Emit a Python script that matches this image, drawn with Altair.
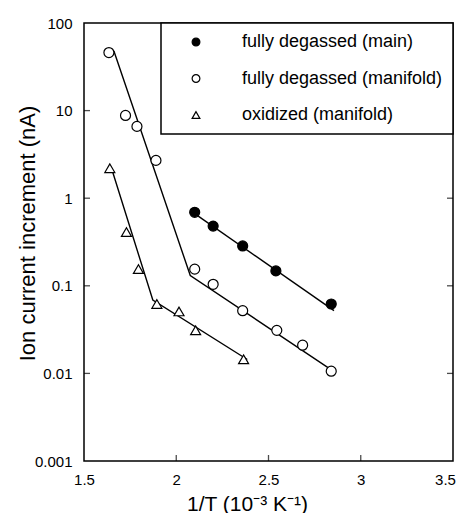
import altair as alt
import pandas as pd

series_names = ["fully degassed (main)", "fully degassed (manifold)", "oxidized (manifold)"]

# measured points
main_x = [2.10, 2.20, 2.36, 2.54, 2.84]
main_y = [0.69, 0.48, 0.285, 0.148, 0.062]

manifold_x = [1.635, 1.725, 1.787, 1.89, 2.10, 2.20, 2.36, 2.545, 2.685, 2.84]
manifold_y = [46, 8.8, 6.6, 2.7, 0.155, 0.104, 0.052, 0.031, 0.021, 0.0106]

oxid_x = [1.64, 1.73, 1.795, 1.895, 2.015, 2.105, 2.365]
oxid_y = [2.2, 0.41, 0.155, 0.062, 0.051, 0.031, 0.0145]

# fitted lines
fit_main_x = [2.09, 2.855]
fit_main_y = [0.69, 0.052]
fit_manifold_x = [1.662, 2.076, 2.849]
fit_manifold_y = [48, 0.131, 0.0107]
fit_oxid_x = [1.655, 1.873, 2.385]
fit_oxid_y = [2.0, 0.0687, 0.0144]

# axis ticks
x_ticks = [1.5, 2, 2.5, 3, 3.5]
y_ticks = [0.001, 0.01, 0.1, 1, 10, 100]
x_inner = [2, 2.5, 3]
y_inner = [0.01, 0.1, 1, 10]

pts = pd.concat([
    pd.DataFrame({"x": main_x, "y": main_y, "series": series_names[0]}),
    pd.DataFrame({"x": manifold_x, "y": manifold_y, "series": series_names[1]}),
    pd.DataFrame({"x": oxid_x, "y": oxid_y, "series": series_names[2]}),
], ignore_index=True)

fits = pd.concat([
    pd.DataFrame({"x": fit_main_x, "y": fit_main_y, "series": series_names[0]}),
    pd.DataFrame({"x": fit_manifold_x, "y": fit_manifold_y, "series": series_names[1]}),
    pd.DataFrame({"x": fit_oxid_x, "y": fit_oxid_y, "series": series_names[2]}),
], ignore_index=True)

X = alt.X(
    "x:Q",
    scale=alt.Scale(domain=[x_ticks[0], x_ticks[-1]], nice=False, zero=False),
    axis=alt.Axis(
        values=x_ticks, format=".1~f", title="1/T (10⁻³ K⁻¹)",
        ticks=False, tickSize=0, domain=False, grid=False,
        labelPadding=11, labelFontSize=15, labelFlush=False,
        labelOffset={"condition": {"test": "datum.value >= 3.5", "value": -8}, "value": 0},
        titleFontSize=21, titleX=163, titleY=32, titleBaseline="top",
    ),
)
Y = alt.Y(
    "y:Q",
    scale=alt.Scale(type="log", domain=[y_ticks[0], y_ticks[-1]], nice=False),
    axis=alt.Axis(
        values=y_ticks, format="~g", title="Ion current increment (nA)",
        ticks=False, tickSize=0, domain=False, grid=False,
        labelPadding=12, labelFontSize=15, labelFlush=False,
        titleFontSize=22, titleX=-45, titleY=210,
    ),
)

lines = alt.Chart(fits).mark_line(color="black", strokeWidth=1.4).encode(
    x=X, y=Y, detail="series:N"
)

legend = alt.Legend(title=None)
points = alt.Chart(pts).mark_point(filled=True, strokeWidth=1.2, size=100, opacity=1).encode(
    x=X, y=Y,
    shape=alt.Shape("series:N", scale=alt.Scale(domain=series_names, range=["circle", "circle", "triangle-up"]),
                    legend=legend),
    fill=alt.Fill("series:N", scale=alt.Scale(domain=series_names, range=["black", "white", "white"]),
                  legend=legend),
    stroke=alt.Stroke("series:N", scale=alt.Scale(domain=series_names, range=["black", "black", "black"]),
                      legend=legend),
)

bottom_ticks = alt.Chart(pd.DataFrame({"x": x_inner, "y": [y_ticks[0]] * len(x_inner)})).mark_tick(
    orient="vertical", size=6, thickness=1.3, color="black", yOffset=-3
).encode(x=X, y=Y)
top_ticks = alt.Chart(pd.DataFrame({"x": x_inner, "y": [y_ticks[-1]] * len(x_inner)})).mark_tick(
    orient="vertical", size=6, thickness=1.3, color="black", yOffset=3
).encode(x=X, y=Y)
left_ticks = alt.Chart(pd.DataFrame({"x": [x_ticks[0]] * len(y_inner), "y": y_inner})).mark_tick(
    orient="horizontal", size=6, thickness=1.3, color="black", xOffset=3
).encode(x=X, y=Y)
right_ticks = alt.Chart(pd.DataFrame({"x": [x_ticks[-1]] * len(y_inner), "y": y_inner})).mark_tick(
    orient="horizontal", size=6, thickness=1.3, color="black", xOffset=-3
).encode(x=X, y=Y)

chart = alt.layer(lines, points, bottom_ticks, top_ticks, left_ticks, right_ticks).properties(
    width=369, height=438,
    autosize="none",
    padding={"left": 76, "top": 15, "right": 3, "bottom": 52},
).configure(
    font="Liberation Sans",
).configure_view(
    stroke="black", strokeWidth=1.5,
).configure_axis(
    labelColor="black", titleColor="black", titleFontWeight="normal",
    labelFont="Liberation Sans", titleFont="Liberation Sans",
).configure_legend(
    orient="top-right", offset=0, padding=10,
    strokeColor="black", strokeWidth=1.5, fillColor="white",
    labelFontSize=18, labelColor="black", labelFont="Liberation Sans", labelLimit=400,
    symbolSize=60, symbolOffset=16, labelOffset=37, rowPadding=18.5,
    symbolStrokeWidth=1.2,
)

chart.save("out.html", embed_options={"renderer": "svg", "actions": False})
